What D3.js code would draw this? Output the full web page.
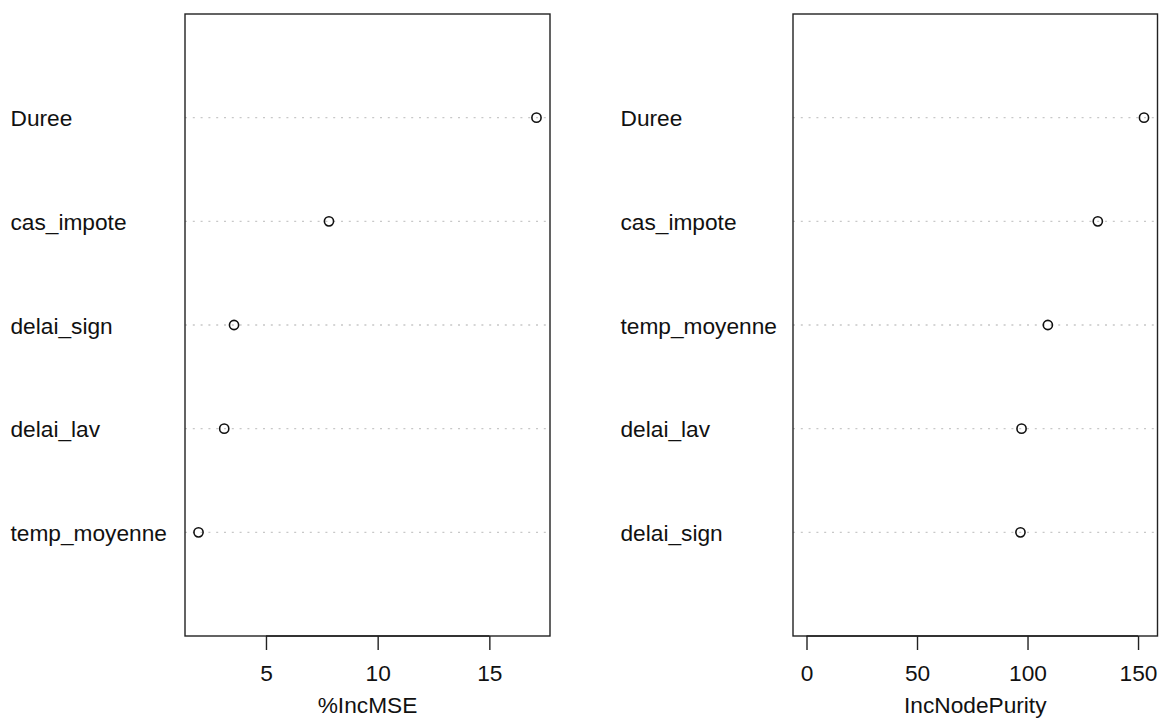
<!DOCTYPE html>
<html>
<head>
<meta charset="utf-8">
<script src="https://cdn.jsdelivr.net/npm/d3@7"></script>
<style>
  html, body { margin: 0; padding: 0; background: #fff; }
  svg { display: block; font-family: "Liberation Sans", Arial, Helvetica, sans-serif; }
</style>
</head>
<body>
<svg id="chart" width="1164" height="718"></svg>
<script>
// Data (bottom-to-top order, as in the dot chart)
const varsMSE = ["temp_moyenne", "delai_lav", "delai_sign", "cas_impote", "Duree"];
const valuesMSE = [1.98, 3.13, 3.57, 7.82, 17.11];
const ticksMSE = [5, 10, 15];
const titleMSE = "%IncMSE";

const varsNP = ["delai_sign", "delai_lav", "temp_moyenne", "cas_impote", "Duree"];
const valuesNP = [96.8, 97.3, 109.2, 131.8, 152.7];
const ticksNP = [0, 50, 100, 150];
const titleNP = "IncNodePurity";

const svg = d3.select("#chart");
const FS = 22.7;

function panel(opts) {
  const { vars, values, ticks, title, xmin, boxL, boxR, labelX } = opts;
  const boxT = 14, boxB = 636;
  const lo = xmin !== undefined ? xmin : d3.min(values);
  const hi = d3.max(values);
  const pad = (hi - lo) * 0.04;
  const x = d3.scaleLinear().domain([lo - pad, hi + pad]).range([boxL, boxR]);
  const y = d3.scaleLinear().domain([0, vars.length + 1]).range([boxB, boxT]);
  const g = svg.append("g");

  const rows = vars.map((v, i) => ({ name: v, value: values[i], pos: i + 1 }));

  // dotted guide lines
  g.selectAll("line.guide").data(rows).join("line")
    .attr("class", "guide")
    .attr("x1", boxL).attr("x2", boxR)
    .attr("y1", d => y(d.pos)).attr("y2", d => y(d.pos))
    .attr("stroke", "#c8c8c8").attr("stroke-width", 1.3)
    .attr("stroke-dasharray", "2,5.8");

  // box
  g.append("rect")
    .attr("x", boxL).attr("y", boxT)
    .attr("width", boxR - boxL).attr("height", boxB - boxT)
    .attr("fill", "none").attr("stroke", "#222").attr("stroke-width", 1.4);

  // points
  g.selectAll("circle").data(rows).join("circle")
    .attr("cx", d => x(d.value)).attr("cy", d => y(d.pos))
    .attr("r", 4.6)
    .attr("fill", "none").attr("stroke", "#111").attr("stroke-width", 1.6);

  // labels
  g.selectAll("text.lab").data(rows).join("text")
    .attr("class", "lab")
    .attr("x", labelX).attr("y", d => y(d.pos) + 8.5)
    .attr("font-size", FS).attr("fill", "#111")
    .text(d => d.name);

  // x axis
  const axis = d3.axisBottom(x).tickValues(ticks).tickSize(14).tickPadding(15).tickFormat(d3.format("d"));
  const ag = g.append("g").attr("transform", `translate(0,${boxB})`).call(axis);
  ag.select(".domain").attr("d", `M${x(ticks[0])},0H${x(ticks[ticks.length - 1])}`)
    .attr("stroke", "#222").attr("stroke-width", 1.4);
  ag.selectAll(".tick line").attr("stroke", "#222").attr("stroke-width", 1.4);
  ag.selectAll(".tick text").attr("font-size", FS).attr("fill", "#111")
    .attr("font-family", "Liberation Sans, Arial, sans-serif");

  g.append("text")
    .attr("x", (boxL + boxR) / 2).attr("y", 713)
    .attr("text-anchor", "middle").attr("font-size", FS).attr("fill", "#111")
    .text(title);
}

panel({ vars: varsMSE, values: valuesMSE, ticks: ticksMSE, title: titleMSE,
        boxL: 185, boxR: 550, labelX: 10.5 });
panel({ vars: varsNP, values: valuesNP, ticks: ticksNP, title: titleNP, xmin: 0,
        boxL: 793, boxR: 1157.5, labelX: 620.5 });
</script>
</body>
</html>
